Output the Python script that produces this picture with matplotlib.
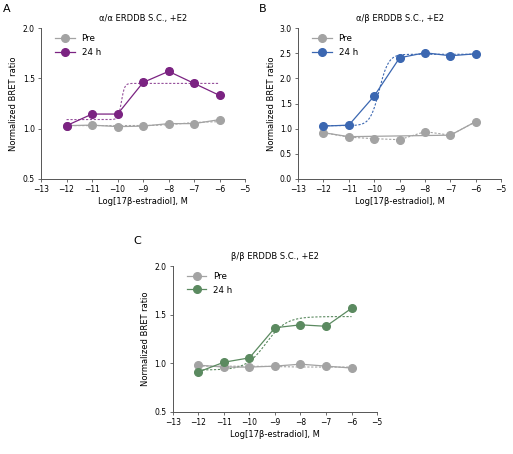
import numpy as np
import matplotlib
matplotlib.use("Agg")
import matplotlib.pyplot as plt
from matplotlib.ticker import FormatStrFormatter
from matplotlib.lines import Line2D

plt.rcParams['font.family'] = ['DejaVu Sans']

conc = [-12, -11, -10, -9, -8, -7, -6]

# panel A, alpha/alpha
a_pre = [1.03, 1.035, 1.02, 1.025, 1.05, 1.05, 1.09]
a_24h = [1.03, 1.145, 1.145, 1.46, 1.57, 1.45, 1.33]
a_24h_err = [0.01, 0.015, 0.015, 0.03, 0.03, 0.03, 0.02]
# fit params: bottom, top, logEC50, hill
a_pre_fit = (1.03, 1.07, -7.5, 1.0)
a_24h_fit = (1.09, 1.45, -9.85, 7.0)

# panel B, alpha/beta
b_pre = [0.92, 0.83, 0.80, 0.78, 0.94, 0.87, 1.14]
b_24h = [1.05, 1.07, 1.65, 2.41, 2.51, 2.45, 2.49]
b_24h_err = [0.02, 0.02, 0.03, 0.05, 0.03, 0.03, 0.03]
b_pre_trend_x = [-12, -11, -7, -6]
b_pre_trend_y = [0.92, 0.84, 0.87, 1.14]
b_24h_fit = (1.06, 2.48, -9.8, 2.4)

# panel C, beta/beta
c_pre = [0.98, 0.96, 0.96, 0.97, 0.99, 0.97, 0.95]
c_24h = [0.91, 1.01, 1.055, 1.365, 1.395, 1.38, 1.565]
c_pre_fit = (0.97, 0.96, -9.0, 1.0)
c_24h_fit = (0.93, 1.48, -9.35, 1.1)

gray = '#a3a3a3'
purple = '#7b2382'
blue = '#3b67b1'
green = '#5b8a60'


def logistic(x, p):
    bottom, top, ec50, hill = p
    return bottom + (top - bottom) / (1 + 10 ** ((ec50 - x) * hill))


def style_ax(ax, ylim, yticks, title, color):
    ax.set_xlim(-13, -5)
    ax.set_ylim(*ylim)
    ax.set_xticks(range(-13, -4))
    ax.set_yticks(yticks)
    ax.yaxis.set_major_formatter(FormatStrFormatter('%.1f'))
    for s in ['top', 'right']:
        ax.spines[s].set_visible(False)
    for s in ['left', 'bottom']:
        ax.spines[s].set_color('#555555')
        ax.spines[s].set_linewidth(0.7)
    ax.tick_params(labelsize=5.5, length=2.5, width=0.6, color='#555555', pad=2)
    ax.set_xlabel('Log[17β-estradiol], M', fontsize=6, labelpad=2)
    ax.set_ylabel('Normalized BRET ratio', fontsize=6, labelpad=3)
    ax.set_title(title, fontsize=6, pad=5)
    handles = [Line2D([], [], color=gray, **mk), Line2D([], [], color=color, **mk)]
    ax.legend(handles, ['Pre', '24 h'], loc='upper left', frameon=False, fontsize=6.3,
              handlelength=2.2, borderaxespad=0.3, labelspacing=0.5,
              bbox_to_anchor=(0.04, 1.0))


xf = np.linspace(-12, -6, 300)
mk = dict(marker='o', markersize=5.5, linewidth=0.9)

fig = plt.figure(figsize=(5.13, 4.54), dpi=100)
ax_a = fig.add_axes([0.080, 0.606, 0.398, 0.332])
ax_b = fig.add_axes([0.581, 0.606, 0.396, 0.332])
ax_c = fig.add_axes([0.337, 0.093, 0.398, 0.321])

# A
ax_a.plot(xf, logistic(xf, a_pre_fit), ls=(0, (2, 1.5)), color=gray, lw=0.8)
ax_a.plot(xf, logistic(xf, a_24h_fit), ls=(0, (2, 1.5)), color=purple, lw=0.8, alpha=0.8)
ax_a.plot(conc, a_pre, color=gray, **mk)
ax_a.errorbar(conc, a_24h, yerr=a_24h_err, color=purple, capsize=2, elinewidth=0.8,
              capthick=0.8, **mk)
style_ax(ax_a, (0.5, 2.0), [0.5, 1.0, 1.5, 2.0], 'α/α ERDDB S.C., +E2', purple)

# B
ax_b.plot(b_pre_trend_x, b_pre_trend_y, color=gray, lw=0.9)
ax_b.plot(xf, logistic(xf, b_24h_fit), ls=(0, (2, 1.5)), color=blue, lw=0.8)
ax_b.plot(conc, b_pre, color=gray, marker='o', markersize=5.5, lw=0.8, ls=(0, (2, 1.5)))
ax_b.errorbar(conc, b_24h, yerr=b_24h_err, color=blue, capsize=2, elinewidth=0.8,
              capthick=0.8, **mk)
style_ax(ax_b, (0.0, 3.0), [0.0, 0.5, 1.0, 1.5, 2.0, 2.5, 3.0], 'α/β ERDDB S.C., +E2', blue)

# C
ax_c.plot(xf, logistic(xf, c_pre_fit), ls=(0, (2, 1.5)), color=gray, lw=0.8)
ax_c.plot(xf, logistic(xf, c_24h_fit), ls=(0, (2, 1.5)), color=green, lw=0.8)
ax_c.plot(conc, c_pre, color=gray, **mk)
ax_c.plot(conc, c_24h, color=green, **mk)
style_ax(ax_c, (0.5, 2.0), [0.5, 1.0, 1.5, 2.0], 'β/β ERDDB S.C., +E2', green)

fig.text(3 / 513, 1 - 12 / 454, 'A', fontsize=8)
fig.text(259 / 513, 1 - 12 / 454, 'B', fontsize=8)
fig.text(133 / 513, 1 - 244 / 454, 'C', fontsize=8)

fig.savefig('out.png', dpi=100)
